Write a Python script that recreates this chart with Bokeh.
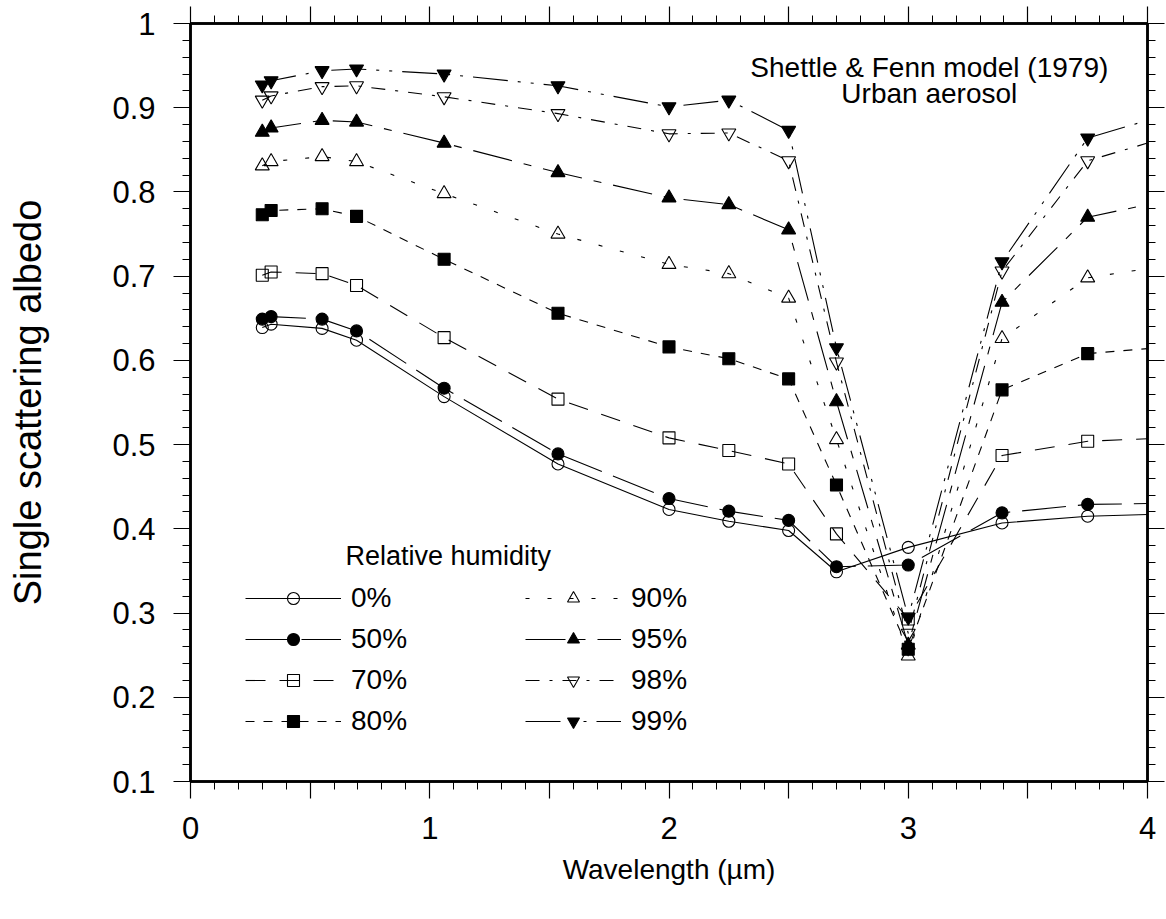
from bokeh.plotting import figure
from bokeh.models import (Range1d, FixedTicker, LinearAxis, Label, Legend, LegendItem,
                          CustomJSTickFormatter)
from bokeh.embed import file_html
from bokeh.resources import INLINE

# ---------------- data ----------------
wavelength = [0.3, 0.337, 0.55, 0.694, 1.06, 1.536, 2.0, 2.25, 2.5, 2.7, 3.0, 3.392, 3.75]
curve_end_x = 4.0

rh0 = [0.639, 0.643, 0.638, 0.624, 0.557, 0.477, 0.423, 0.409, 0.398, 0.349, 0.378, 0.407, 0.415]
rh50 = [0.649, 0.652, 0.649, 0.635, 0.567, 0.489, 0.436, 0.421, 0.410, 0.355, 0.357, 0.419, 0.429]
rh70 = [0.701, 0.705, 0.703, 0.689, 0.627, 0.554, 0.508, 0.493, 0.477, 0.394, 0.293, 0.487, 0.504]
rh80 = [0.773, 0.778, 0.780, 0.771, 0.720, 0.656, 0.616, 0.602, 0.578, 0.452, 0.257, 0.565, 0.608]
rh90 = [0.831, 0.836, 0.842, 0.836, 0.798, 0.750, 0.714, 0.703, 0.674, 0.506, 0.249, 0.626, 0.698]
rh95 = [0.871, 0.876, 0.885, 0.883, 0.858, 0.823, 0.793, 0.785, 0.755, 0.551, 0.262, 0.669, 0.770]
rh98 = [0.909, 0.914, 0.925, 0.926, 0.913, 0.893, 0.869, 0.870, 0.837, 0.598, 0.276, 0.706, 0.837]
rh99 = [0.927, 0.932, 0.944, 0.946, 0.940, 0.926, 0.901, 0.909, 0.873, 0.615, 0.295, 0.717, 0.864]

# value of each curve where it reaches the right edge (x = 4)
curve_end = {"0%": 0.417, "50%": 0.430, "70%": 0.507, "80%": 0.614,
             "90%": 0.709, "95%": 0.785, "98%": 0.858, "99%": 0.885}

labels = ["0%", "50%", "70%", "80%", "90%", "95%", "98%", "99%"]
series = [rh0, rh50, rh70, rh80, rh90, rh95, rh98, rh99]

x_major_ticks = [0, 0.5, 1, 1.5, 2, 2.5, 3, 3.5, 4]
x_minor_ticks = [round(i * 0.1, 1) for i in range(41)]
y_major_ticks = [round(0.1 + i * 0.1, 1) for i in range(10)]
y_minor_ticks = [round(0.1 + i * 0.02, 2) for i in range(46)]

# ---------------- styles ----------------
FONT = "Liberation Sans"
styles = {
    "0%":  dict(marker="circle", filled=False, dash="solid", size=12),
    "50%": dict(marker="circle", filled=True, dash="44 12", size=12),
    "70%": dict(marker="square", filled=False, dash="20 14", size=12),
    "80%": dict(marker="square", filled=True, dash="9 9", size=12),
    "90%": dict(marker="triangle", filled=False, dash="4 18", size=14),
    "95%": dict(marker="triangle", filled=True, dash="40 12 8 12", size=14),
    "98%": dict(marker="inverted_triangle", filled=False, dash="14 10 3 10", size=14),
    "99%": dict(marker="inverted_triangle", filled=True, dash="35 10 3 10 3 10", size=14),
}

p = figure(width=1166, height=919, output_backend="svg", toolbar_location=None,
           x_range=Range1d(0, 4), y_range=Range1d(0.1, 1.0),
           min_border_left=190, min_border_right=19, min_border_top=23, min_border_bottom=138)
p.xgrid.visible = False
p.ygrid.visible = False
p.background_fill_color = "white"
p.border_fill_color = "white"
p.outline_line_color = "black"
p.outline_line_width = 2.5

xticker = FixedTicker(ticks=x_major_ticks, minor_ticks=x_minor_ticks)
yticker = FixedTicker(ticks=y_major_ticks, minor_ticks=y_minor_ticks)

xfmt = CustomJSTickFormatter(code="return (Math.abs(tick - Math.round(tick)) < 1e-6) ? Math.round(tick).toString() : '';")
yfmt = CustomJSTickFormatter(code="return (tick > 0.999) ? '1' : tick.toFixed(1);")
blank = CustomJSTickFormatter(code="return '';")


def style_axis(ax, show_labels, title_size="28px"):
    ax.axis_line_color = "black"
    ax.axis_line_width = 2.5
    ax.major_tick_out = 17
    ax.major_tick_in = 0
    ax.minor_tick_out = 8
    ax.minor_tick_in = 0
    ax.major_tick_line_color = "black"
    ax.minor_tick_line_color = "black"
    ax.major_tick_line_width = 1.2
    ax.minor_tick_line_width = 1.0
    if show_labels:
        ax.major_label_text_font = FONT
        ax.major_label_text_font_size = "31px"
        ax.major_label_text_color = "black"
        ax.axis_label_text_font = FONT
        ax.axis_label_text_font_size = title_size
        ax.axis_label_text_font_style = "normal"
        ax.axis_label_text_color = "black"
    else:
        ax.major_label_standoff = 0
        ax.major_label_text_font_size = "1px"


xa = p.xaxis[0]
xa.ticker = xticker
xa.formatter = xfmt
xa.axis_label = "Wavelength (\u00b5m)"
style_axis(xa, True, "28px")
xa.major_label_standoff = 18
xa.axis_label_standoff = 12

ya = p.yaxis[0]
ya.ticker = yticker
ya.formatter = yfmt
ya.axis_label = "Single scattering albedo"
style_axis(ya, True, "38px")
ya.major_label_standoff = 18
ya.axis_label_standoff = 60

top = LinearAxis(ticker=xticker, formatter=blank)
style_axis(top, False)
p.add_layout(top, "above")
right = LinearAxis(ticker=yticker, formatter=blank)
style_axis(right, False)
p.add_layout(right, "right")

items = []
line_x = wavelength + [curve_end_x]
for lab, vals in zip(labels, series):
    st = styles[lab]
    lr = p.line(line_x, vals + [curve_end[lab]], line_color="black", line_width=1.1,
                line_dash=st["dash"])
    mr = p.scatter(wavelength, vals, marker=st["marker"], size=st["size"],
                   line_color="black", line_width=1.1,
                   fill_color="black" if st["filled"] else None)
    items.append(LegendItem(label=lab, renderers=[lr, mr]))

legend = Legend(items=items, location=(55, 44), orientation="vertical", nrows=4,
                glyph_width=96, glyph_height=30, label_standoff=10, spacing=9,
                label_width=165, padding=0, margin=0,
                border_line_color=None, background_fill_alpha=0,
                label_text_font=FONT, label_text_font_size="28px", label_text_color="black")
p.add_layout(legend)

p.add_layout(Label(x=3.088, y=0.9479, text="Shettle & Fenn model (1979)", text_align="center",
                   text_baseline="alphabetic", text_font=FONT, text_font_size="28px",
                   text_color="black"))
p.add_layout(Label(x=3.088, y=0.917, text="Urban aerosol", text_align="center",
                   text_baseline="alphabetic", text_font=FONT, text_font_size="28px",
                   text_color="black"))
p.add_layout(Label(x=0.648, y=0.3675, text="Relative humidity", text_align="left",
                   text_baseline="alphabetic", text_font=FONT, text_font_size="27px",
                   text_color="black"))

open("out.html", "w").write(file_html(p, INLINE))
